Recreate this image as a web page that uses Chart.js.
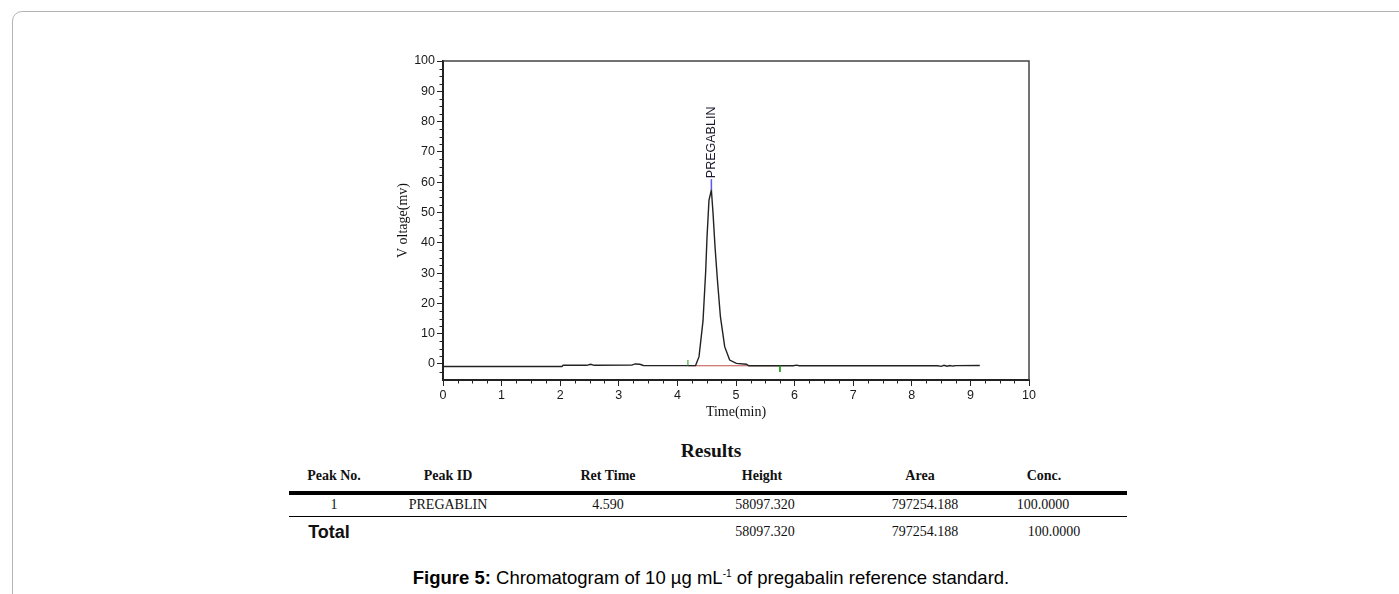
<!DOCTYPE html>
<html>
<head>
<meta charset="utf-8">
<script src="https://cdn.jsdelivr.net/npm/chart.js@4"></script>
<style>
  body { margin: 0; background: #fff; width: 1399px; height: 594px; overflow: hidden; position: relative; }
  .frame { position: absolute; left: 12px; top: 11px; width: 1420px; height: 700px; border: 1px solid #b4b4b4; border-radius: 10px; }
  #chartWrap { position: absolute; left: 380px; top: 40px; width: 680px; height: 400px; }
  .t { position: absolute; white-space: nowrap; transform: translate(-50%, -50%); font-family: "Liberation Serif", "Times New Roman", serif; font-size: 14px; color: #111; }
  .hd { font-weight: bold; }
  .rule { position: absolute; left: 289px; width: 838px; background: #000; }
  .sans { font-family: "Liberation Sans", Arial, sans-serif; }
</style>
</head>
<body>
<div class="frame"></div>
<div id="chartWrap"><canvas id="chrom" width="680" height="400"></canvas></div>

<div class="t hd" style="left:711px;top:451px;font-size:19.5px;">Results</div>
<div class="t hd" style="left:334px;top:476px;">Peak No.</div>
<div class="t hd" style="left:448px;top:476px;">Peak ID</div>
<div class="t hd" style="left:608px;top:476px;">Ret Time</div>
<div class="t hd" style="left:762px;top:476px;">Height</div>
<div class="t hd" style="left:920px;top:476px;">Area</div>
<div class="t hd" style="left:1044px;top:476px;">Conc.</div>
<div class="rule" style="top:491px;height:4px;"></div>
<div class="t" style="left:334px;top:505px;">1</div>
<div class="t" style="left:448px;top:505px;">PREGABLIN</div>
<div class="t" style="left:608px;top:505px;">4.590</div>
<div class="t" style="left:765px;top:505px;">58097.320</div>
<div class="t" style="left:925px;top:505px;">797254.188</div>
<div class="t" style="left:1043px;top:505px;">100.0000</div>
<div class="rule" style="top:516px;height:1px;"></div>
<div class="t sans hd" style="left:329px;top:532px;font-size:18px;">Total</div>
<div class="t" style="left:765px;top:532px;">58097.320</div>
<div class="t" style="left:925px;top:532px;">797254.188</div>
<div class="t" style="left:1054px;top:532px;">100.0000</div>

<div class="t sans" style="left:711px;top:578px;font-size:18.5px;color:#000;"><b>Figure 5:</b> Chromatogram of 10 µg mL<sup style="font-size:10px;">-1</sup> of pregabalin reference standard.</div>

<script>
// chromatogram trace
const timeMin = [0, 2.03, 2.05, 2.45, 2.52, 2.58, 3.22, 3.28, 3.36, 3.42, 4.25, 4.31,
  4.369, 4.437, 4.483, 4.505, 4.539, 4.58, 4.608, 4.642, 4.683, 4.734, 4.807, 4.892, 5.007, 5.178, 5.22,
  5.98, 6.03, 6.08, 8.44, 8.5, 8.55, 8.6, 8.65, 8.7, 8.75, 9.16];
const voltageMv = [-0.85, -0.85, -0.45, -0.45, -0.1, -0.45, -0.4, 0.0, -0.1, -0.5, -0.55, -0.5,
  2.4, 14.2, 30.7, 41.7, 54.1, 57.4, 49.8, 38.7, 27.7, 15.6, 5.7, 1.3, 0.2, -0.1, -0.6,
  -0.6, -0.4, -0.6, -0.6, -0.8, -0.45, -0.75, -0.5, -0.7, -0.55, -0.5];

// integration baseline and peak marks
const baseTime = [4.18, 5.75];
const baseVolt = [-0.6, -0.6];
const startMark = [-0.6, 1.3];
const endMark = [-0.6, -2.6];
const apexMark = [57.4, 61.0];
const peakName = 'PREGABLIN';
const peakTime = 4.58;

const xTicks = [0, 1, 2, 3, 4, 5, 6, 7, 8, 9, 10];
const yTicks = [0, 10, 20, 30, 40, 50, 60, 70, 80, 90, 100];

const pts = (xs, ys) => xs.map((x, i) => ({ x: x, y: ys[i] }));

const minorTicks = {
    id: 'minorTicks',
    afterDraw(chart) {
        const { ctx, chartArea: a, scales: { x, y } } = chart;
        ctx.save();
        ctx.strokeStyle = '#222';
        ctx.lineWidth = 1;
        ctx.beginPath();
        for (let v = 0.25; v < 10; v += 0.25) {
            if (Math.abs(v - Math.round(v)) < 0.01) continue;
            const px = Math.round(x.getPixelForValue(v)) + 0.5;
            ctx.moveTo(px, a.bottom); ctx.lineTo(px, a.bottom + 3.5);
        }
        for (let v = -2.5; v < 100; v += 2.5) {
            if (Math.abs(v / 10 - Math.round(v / 10)) < 0.01) continue;
            const py = Math.round(y.getPixelForValue(v)) + 0.5;
            ctx.moveTo(a.left - 3.5, py); ctx.lineTo(a.left, py);
        }
        ctx.stroke();
        // top and right frame
        ctx.strokeStyle = '#444';
        ctx.lineWidth = 1.5;
        ctx.beginPath();
        ctx.moveTo(a.left, a.top); ctx.lineTo(a.right, a.top); ctx.lineTo(a.right, a.bottom);
        ctx.stroke();
        // peak label
        ctx.translate(x.getPixelForValue(peakTime), y.getPixelForValue(apexMark[1]) - 1);
        ctx.rotate(-Math.PI / 2);
        ctx.font = '12.5px "Liberation Sans", Arial, sans-serif';
        ctx.fillStyle = '#1a1a2a';
        ctx.textAlign = 'left';
        ctx.textBaseline = 'middle';
        ctx.fillText(peakName, 0, 0);
        ctx.restore();
    }
};

new Chart(document.getElementById('chrom'), {
    type: 'line',
    data: {
        datasets: [
            { data: pts(timeMin, voltageMv), borderColor: '#222', borderWidth: 1.4, order: 5 },
            { data: pts(baseTime, baseVolt), borderColor: '#c0504d', borderWidth: 1, order: 6 },
            { data: pts([baseTime[0], baseTime[0]], startMark), borderColor: '#1a9a1a', borderWidth: 1, order: 1 },
            { data: pts([baseTime[1], baseTime[1]], endMark), borderColor: '#1a9a1a', borderWidth: 1, order: 1 },
            { data: pts([peakTime, peakTime], apexMark), borderColor: '#5a5af0', borderWidth: 1.5, order: 0 }
        ]
    },
    options: {
        responsive: false,
        animation: false,
        elements: { point: { radius: 0 }, line: { tension: 0 } },
        layout: { padding: { top: 21, right: 31, left: 0, bottom: 0 } },
        plugins: { legend: { display: false }, tooltip: { enabled: false } },
        scales: {
            x: {
                type: 'linear', min: 0, max: 10,
                afterBuildTicks: s => { s.ticks = xTicks.map(v => ({ value: v })); },
                afterFit: s => { s.height = 60; },
                grid: { drawOnChartArea: false, tickLength: 6, tickColor: '#222' },
                border: { color: '#222', width: 2 },
                ticks: { color: '#1a1a1a', padding: 2, maxRotation: 0, font: { family: '"Liberation Sans", Arial', size: 12.5 } },
                title: { display: true, text: 'Time(min)', color: '#111', padding: { top: 0, bottom: 19 },
                    font: { family: '"Liberation Serif", "Times New Roman"', size: 14 } }
            },
            y: {
                type: 'linear', min: -5.3, max: 100,
                afterBuildTicks: s => { s.ticks = yTicks.map(v => ({ value: v })); },
                afterFit: s => { s.width = 63; },
                grid: { drawOnChartArea: false, tickLength: 6, tickColor: '#222' },
                border: { color: '#222', width: 2 },
                ticks: { color: '#1a1a1a', padding: 2, font: { family: '"Liberation Sans", Arial', size: 12.5 } },
                title: { display: true, text: 'V oltage(mv)', color: '#111', padding: { top: 15, bottom: 0 },
                    font: { family: '"Liberation Serif", "Times New Roman"', size: 14 } }
            }
        }
    },
    plugins: [minorTicks]
});
</script>
</body>
</html>
